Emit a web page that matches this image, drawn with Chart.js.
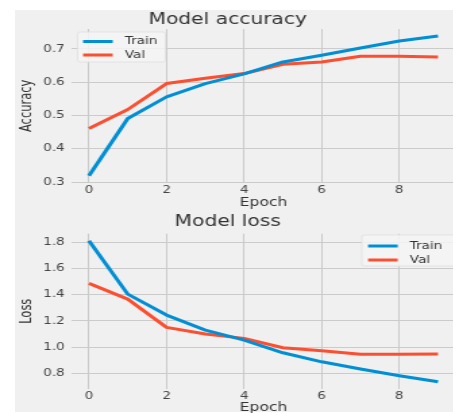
<!DOCTYPE html>
<html>
<head>
<meta charset="utf-8">
<script src="https://cdn.jsdelivr.net/npm/chart.js@4"></script>
<style>
html, body { margin: 0; padding: 0; background: #fff; overflow: hidden; width: 453px; height: 413px; }
#bg { position: absolute; left: 15px; top: 10px; width: 438px; height: 402px; background: #f0f0f0; }
/* the reference image is stretched sideways, so the canvases are too */
canvas { position: absolute; left: 0; transform: scaleX(1.35); transform-origin: 0 0; }
#accChart { top: 0; width: 341px; height: 212px; }
#lossChart { top: 200px; width: 341px; height: 216px; }
</style>
</head>
<body>
<div id="bg"></div>
<canvas id="accChart" width="341" height="212"></canvas>
<canvas id="lossChart" width="341" height="216"></canvas>
<script>
// Training history
const epochs = [0, 1, 2, 3, 4, 5, 6, 7, 8, 9];
const trainAcc = [0.319, 0.491, 0.556, 0.596, 0.625, 0.661, 0.681, 0.703, 0.724, 0.739];
const valAcc = [0.461, 0.518, 0.596, 0.612, 0.626, 0.654, 0.661, 0.678, 0.678, 0.676];
const trainLoss = [1.812, 1.405, 1.245, 1.130, 1.054, 0.957, 0.888, 0.833, 0.782, 0.736];
const valLoss = [1.487, 1.367, 1.151, 1.100, 1.067, 0.995, 0.973, 0.945, 0.945, 0.948];

const epochTicks = [0, 2, 4, 6, 8];
const accTicks = [0.3, 0.4, 0.5, 0.6, 0.7];
const lossTicks = [0.8, 1.0, 1.2, 1.4, 1.6, 1.8];

const seriesNames = ['Train', 'Val'];
const seriesColors = ['#008fd5', '#fc4f30'];

Chart.defaults.font.family = 'DejaVu Sans';
Chart.defaults.color = '#444';

// legend drawn inside the plot, matplotlib style
const boxLegend = {
    id: 'boxLegend',
    afterDatasetsDraw(chart, args, opts) {
        const ctx = chart.ctx;
        ctx.save();
        ctx.fillStyle = 'rgba(244, 244, 244, 0.85)';
        ctx.strokeStyle = '#dedede';
        ctx.lineWidth = 0.8;
        ctx.beginPath();
        ctx.roundRect(opts.boxX, opts.boxY, opts.boxW, opts.boxH, 2);
        ctx.fill();
        ctx.stroke();
        chart.data.datasets.forEach((ds, i) => {
            const y = opts.lineY + i * opts.gap;
            ctx.strokeStyle = ds.borderColor;
            ctx.lineWidth = 3;
            ctx.beginPath();
            ctx.moveTo(opts.lineX, y);
            ctx.lineTo(opts.lineX + 22, y);
            ctx.stroke();
            ctx.fillStyle = '#333';
            ctx.font = '10px "DejaVu Sans"';
            ctx.textBaseline = 'middle';
            ctx.fillText(ds.label, opts.lineX + 31, y);
        });
        ctx.restore();
    }
};

function makeDatasets(train, val) {
    return [train, val].map((vals, i) => ({
        label: seriesNames[i],
        data: epochs.map((e, j) => ({ x: e, y: vals[j] })),
        borderColor: seriesColors[i],
        backgroundColor: seriesColors[i],
        borderWidth: 3,
        tension: 0,
        pointRadius: 0,
        borderJoinStyle: 'round',
        borderCapStyle: 'butt'
    }));
}

function makeChart(id, cfg) {
    return new Chart(document.getElementById(id), {
        type: 'line',
        data: { datasets: makeDatasets(cfg.train, cfg.val) },
        plugins: [boxLegend],
        options: {
            responsive: false,
            animation: false,
            layout: { padding: { left: 0, right: 3.6, top: 0, bottom: 0 } },
            scales: {
                x: {
                    type: 'linear',
                    min: -0.45,
                    max: 9.45,
                    afterBuildTicks: s => { s.ticks = epochTicks.map(v => ({ value: v })); },
                    afterFit: s => { s.height = cfg.xHeight; },
                    grid: { color: '#cbcbcb', lineWidth: 1, drawTicks: false },
                    border: { display: false },
                    ticks: { font: { size: 10 }, padding: 2, maxRotation: 0 },
                    title: {
                        display: true,
                        text: 'Epoch',
                        color: '#333',
                        font: { size: 11.5 },
                        padding: { top: 0, bottom: cfg.xTitlePad }
                    }
                },
                y: {
                    min: cfg.yMin,
                    max: cfg.yMax,
                    afterBuildTicks: s => { s.ticks = cfg.yTicks.map(v => ({ value: v })); },
                    afterFit: s => { s.width = 52.96; },
                    grid: { color: '#cbcbcb', lineWidth: 1, drawTicks: false },
                    border: { display: false },
                    ticks: { font: { size: 10 }, padding: 5, callback: v => v.toFixed(1) },
                    title: {
                        display: true,
                        text: cfg.yLabel,
                        color: '#333',
                        font: { size: 11.5 },
                        padding: { top: 13.5, bottom: 0 }
                    }
                }
            },
            plugins: {
                legend: { display: false },
                tooltip: { enabled: false },
                title: {
                    display: true,
                    text: cfg.title,
                    color: '#333',
                    font: { size: 15, weight: 'normal' },
                    padding: cfg.titlePad
                },
                boxLegend: cfg.legend
            }
        }
    });
}

makeChart('accChart', {
    train: trainAcc, val: valAcc,
    title: 'Model accuracy', yLabel: 'Accuracy',
    yMin: 0.298, yMax: 0.760, yTicks: accTicks,
    xHeight: 29.3, xTitlePad: 2.2,
    titlePad: { top: 11, bottom: 0 },
    legend: { boxX: 57.5, boxY: 32, boxW: 65, boxH: 30, lineX: 61.5, lineY: 41.5, gap: 13.5 }
});

makeChart('lossChart', {
    train: trainLoss, val: valLoss,
    title: 'Model loss', yLabel: 'Loss',
    yMin: 0.682, yMax: 1.866, yTicks: lossTicks,
    xHeight: 27.2, xTitlePad: 1.2,
    titlePad: { top: 13, bottom: 2.7 },
    legend: { boxX: 268, boxY: 35, boxW: 75, boxH: 31, lineX: 272.6, lineY: 46, gap: 14 }
});
</script>
</body>
</html>
